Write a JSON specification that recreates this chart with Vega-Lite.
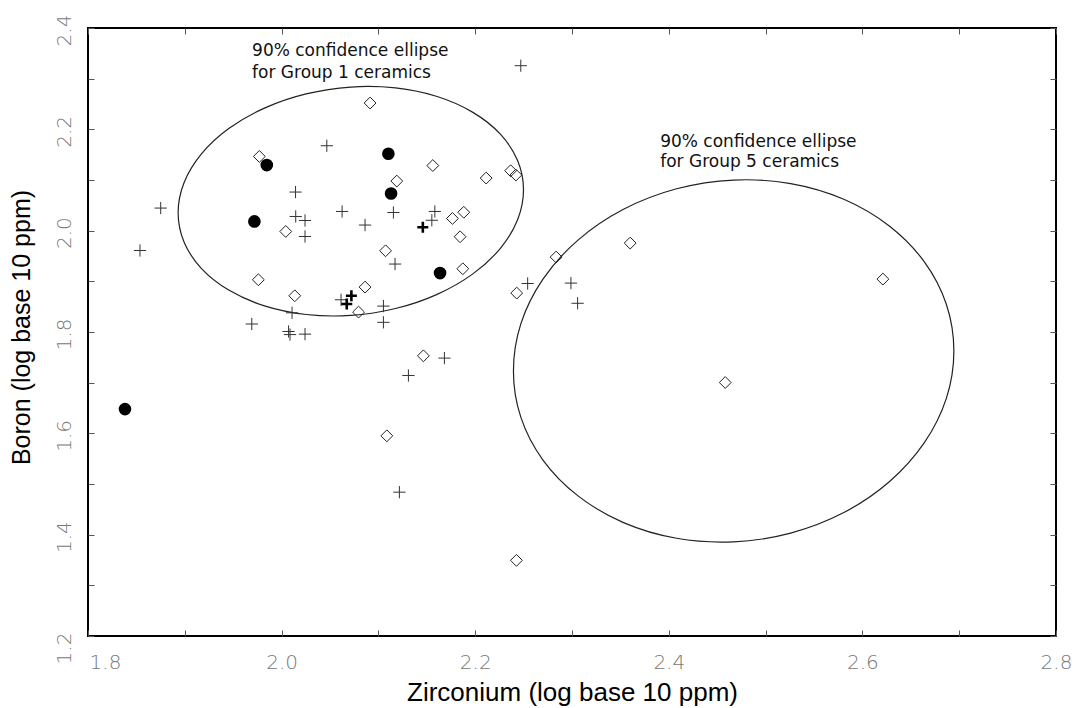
{
  "$schema": "https://vega.github.io/schema/vega-lite/v6.json",
  "width": 968,
  "height": 608,
  "autosize": "none",
  "padding": {"left": 88, "top": 28, "right": 21, "bottom": 72},
  "background": "white",
  "config": {
    "view": {"stroke": "#000", "strokeWidth": 2},
    "axis": {"grid": false, "domain": false, "labelFlush": false, "labelOverlap": false}
  },
  "datasets": {
    "points": [
      {"zr": 1.9847, "b": 2.1295, "kind": "dot"},
      {"zr": 2.1103, "b": 2.1518, "kind": "dot"},
      {"zr": 2.1131, "b": 2.0734, "kind": "dot"},
      {"zr": 1.9719, "b": 2.0182, "kind": "dot"},
      {"zr": 2.1637, "b": 1.9163, "kind": "dot"},
      {"zr": 1.8382, "b": 1.6478, "kind": "dot"},
      {"zr": 2.1459, "b": 2.0067, "kind": "bold"},
      {"zr": 2.0721, "b": 1.8715, "kind": "bold"},
      {"zr": 2.0673, "b": 1.8553, "kind": "bold"},
      {"zr": 2.0914, "b": 2.2519, "kind": "diamond"},
      {"zr": 1.9770, "b": 2.1465, "kind": "diamond"},
      {"zr": 2.1562, "b": 2.1285, "kind": "diamond"},
      {"zr": 2.2113, "b": 2.1038, "kind": "diamond"},
      {"zr": 2.2366, "b": 2.1183, "kind": "diamond"},
      {"zr": 2.2420, "b": 2.1098, "kind": "diamond"},
      {"zr": 2.1190, "b": 2.0979, "kind": "diamond"},
      {"zr": 2.1765, "b": 2.0241, "kind": "diamond"},
      {"zr": 2.1882, "b": 2.0363, "kind": "diamond"},
      {"zr": 2.1844, "b": 1.9880, "kind": "diamond"},
      {"zr": 2.0043, "b": 1.9984, "kind": "diamond"},
      {"zr": 2.1074, "b": 1.9603, "kind": "diamond"},
      {"zr": 2.1872, "b": 1.9248, "kind": "diamond"},
      {"zr": 1.9760, "b": 1.9031, "kind": "diamond"},
      {"zr": 2.0136, "b": 1.8715, "kind": "diamond"},
      {"zr": 2.0862, "b": 1.8886, "kind": "diamond"},
      {"zr": 2.0795, "b": 1.8393, "kind": "diamond"},
      {"zr": 2.1465, "b": 1.7530, "kind": "diamond"},
      {"zr": 2.1087, "b": 1.5951, "kind": "diamond"},
      {"zr": 2.2426, "b": 1.3493, "kind": "diamond"},
      {"zr": 2.2429, "b": 1.8768, "kind": "diamond"},
      {"zr": 2.2836, "b": 1.9479, "kind": "diamond"},
      {"zr": 2.3601, "b": 1.9755, "kind": "diamond"},
      {"zr": 2.6212, "b": 1.9044, "kind": "diamond"},
      {"zr": 2.4583, "b": 1.7003, "kind": "diamond"},
      {"zr": 2.2471, "b": 2.3256, "kind": "plus"},
      {"zr": 2.0467, "b": 2.1676, "kind": "plus"},
      {"zr": 2.0144, "b": 2.0762, "kind": "plus"},
      {"zr": 1.8751, "b": 2.0446, "kind": "plus"},
      {"zr": 2.0146, "b": 2.0280, "kind": "plus"},
      {"zr": 2.0242, "b": 2.0201, "kind": "plus"},
      {"zr": 2.0625, "b": 2.0379, "kind": "plus"},
      {"zr": 2.0862, "b": 2.0111, "kind": "plus"},
      {"zr": 2.0242, "b": 1.9885, "kind": "plus"},
      {"zr": 2.1155, "b": 2.0359, "kind": "plus"},
      {"zr": 2.1583, "b": 2.0379, "kind": "plus"},
      {"zr": 2.1552, "b": 2.0205, "kind": "plus"},
      {"zr": 2.1172, "b": 1.9341, "kind": "plus"},
      {"zr": 1.8537, "b": 1.9609, "kind": "plus"},
      {"zr": 2.0614, "b": 1.8636, "kind": "plus"},
      {"zr": 2.0108, "b": 1.8379, "kind": "plus"},
      {"zr": 2.1052, "b": 1.8511, "kind": "plus"},
      {"zr": 2.1052, "b": 1.8191, "kind": "plus"},
      {"zr": 1.9692, "b": 1.8158, "kind": "plus"},
      {"zr": 2.0072, "b": 1.8010, "kind": "plus"},
      {"zr": 2.0087, "b": 1.7949, "kind": "plus"},
      {"zr": 2.0242, "b": 1.7958, "kind": "plus"},
      {"zr": 2.1682, "b": 1.7485, "kind": "plus"},
      {"zr": 2.1310, "b": 1.7141, "kind": "plus"},
      {"zr": 2.1217, "b": 1.4839, "kind": "plus"},
      {"zr": 2.2542, "b": 1.8957, "kind": "plus"},
      {"zr": 2.2989, "b": 1.8965, "kind": "plus"},
      {"zr": 2.3058, "b": 1.8567, "kind": "plus"}
    ],
    "ellipses": [
      {"group": "Group 1", "i": 0, "zr": 2.2499, "b": 2.0808},
      {"group": "Group 1", "i": 1, "zr": 2.2438, "b": 2.1384},
      {"group": "Group 1", "i": 2, "zr": 2.2260, "b": 2.1905},
      {"group": "Group 1", "i": 3, "zr": 2.1976, "b": 2.2335},
      {"group": "Group 1", "i": 4, "zr": 2.1607, "b": 2.2647},
      {"group": "Group 1", "i": 5, "zr": 2.1177, "b": 2.2817},
      {"group": "Group 1", "i": 6, "zr": 2.0715, "b": 2.2835},
      {"group": "Group 1", "i": 7, "zr": 2.0253, "b": 2.2699},
      {"group": "Group 1", "i": 8, "zr": 1.9823, "b": 2.2419},
      {"group": "Group 1", "i": 9, "zr": 1.9454, "b": 2.2015},
      {"group": "Group 1", "i": 10, "zr": 1.9170, "b": 2.1511},
      {"group": "Group 1", "i": 11, "zr": 1.8992, "b": 2.0946},
      {"group": "Group 1", "i": 12, "zr": 1.8931, "b": 2.0354},
      {"group": "Group 1", "i": 13, "zr": 1.8992, "b": 1.9778},
      {"group": "Group 1", "i": 14, "zr": 1.9170, "b": 1.9257},
      {"group": "Group 1", "i": 15, "zr": 1.9454, "b": 1.8827},
      {"group": "Group 1", "i": 16, "zr": 1.9823, "b": 1.8515},
      {"group": "Group 1", "i": 17, "zr": 2.0253, "b": 1.8345},
      {"group": "Group 1", "i": 18, "zr": 2.0715, "b": 1.8327},
      {"group": "Group 1", "i": 19, "zr": 2.1177, "b": 1.8463},
      {"group": "Group 1", "i": 20, "zr": 2.1607, "b": 1.8743},
      {"group": "Group 1", "i": 21, "zr": 2.1976, "b": 1.9147},
      {"group": "Group 1", "i": 22, "zr": 2.2260, "b": 1.9651},
      {"group": "Group 1", "i": 23, "zr": 2.2438, "b": 2.0216},
      {"group": "Group 5", "i": 0, "zr": 2.6945, "b": 1.7626},
      {"group": "Group 5", "i": 1, "zr": 2.6868, "b": 1.8544},
      {"group": "Group 5", "i": 2, "zr": 2.6640, "b": 1.9385},
      {"group": "Group 5", "i": 3, "zr": 2.6278, "b": 2.0092},
      {"group": "Group 5", "i": 4, "zr": 2.5808, "b": 2.0620},
      {"group": "Group 5", "i": 5, "zr": 2.5259, "b": 2.0929},
      {"group": "Group 5", "i": 6, "zr": 2.4670, "b": 2.0999},
      {"group": "Group 5", "i": 7, "zr": 2.4081, "b": 2.0827},
      {"group": "Group 5", "i": 8, "zr": 2.3532, "b": 2.0422},
      {"group": "Group 5", "i": 9, "zr": 2.3062, "b": 1.9814},
      {"group": "Group 5", "i": 10, "zr": 2.2700, "b": 1.9043},
      {"group": "Group 5", "i": 11, "zr": 2.2472, "b": 1.8164},
      {"group": "Group 5", "i": 12, "zr": 2.2395, "b": 1.7232},
      {"group": "Group 5", "i": 13, "zr": 2.2472, "b": 1.6314},
      {"group": "Group 5", "i": 14, "zr": 2.2700, "b": 1.5473},
      {"group": "Group 5", "i": 15, "zr": 2.3062, "b": 1.4766},
      {"group": "Group 5", "i": 16, "zr": 2.3532, "b": 1.4238},
      {"group": "Group 5", "i": 17, "zr": 2.4081, "b": 1.3929},
      {"group": "Group 5", "i": 18, "zr": 2.4670, "b": 1.3859},
      {"group": "Group 5", "i": 19, "zr": 2.5259, "b": 1.4031},
      {"group": "Group 5", "i": 20, "zr": 2.5808, "b": 1.4436},
      {"group": "Group 5", "i": 21, "zr": 2.6278, "b": 1.5044},
      {"group": "Group 5", "i": 22, "zr": 2.6640, "b": 1.5815},
      {"group": "Group 5", "i": 23, "zr": 2.6868, "b": 1.6694}
    ],
    "notes": [
      {"zr": 1.9695, "b": 2.3552, "text": "90% confidence ellipse"},
      {"zr": 1.9695, "b": 2.3112, "text": "for Group 1 ceramics"},
      {"zr": 2.3911, "b": 2.1741, "text": "90% confidence ellipse"},
      {"zr": 2.3911, "b": 2.1346, "text": "for Group 5 ceramics"}
    ]
  },
  "resolve": {"axis": {"x": "independent", "y": "independent"}},
  "layer": [
    {
      "data": {"name": "ellipses"},
      "mark": {"type": "line", "stroke": "#222", "strokeWidth": 1.2, "interpolate": "cardinal-closed"},
      "encoding": {
        "x": {
          "field": "zr", "type": "quantitative",
          "scale": {"domain": [1.8, 2.8], "nice": false, "zero": false},
          "axis": {
            "orient": "bottom",
            "values": [1.8, 1.9, 2.0, 2.1, 2.2, 2.3, 2.4, 2.5, 2.6, 2.7, 2.8],
            "labelExpr": "round(datum.value*10) % 2 == 0 ? format(datum.value, '.1f') : ''",
            "tickSize": -6, "tickColor": "#555", "tickWidth": 1,
            "labelPadding": 22, "labelFont": "DejaVu Sans", "labelFontSize": 20,
            "labelFontWeight": 200, "labelColor": "#777",
            "labelOffset": {"condition": {"test": "datum.value < 1.85", "value": 17}, "value": 0},
            "title": "Zirconium (log base 10 ppm)",
            "titleFont": "Liberation Sans", "titleFontSize": 26, "titleFontWeight": "normal",
            "titleColor": "#000", "titleY": 43, "titleBaseline": "top"
          }
        },
        "y": {
          "field": "b", "type": "quantitative",
          "scale": {"domain": [1.2, 2.4], "nice": false, "zero": false},
          "axis": {
            "orient": "left",
            "values": [1.2, 1.3, 1.4, 1.5, 1.6, 1.7, 1.8, 1.9, 2.0, 2.1, 2.2, 2.3, 2.4],
            "labelExpr": "round(datum.value*10) % 2 == 0 ? format(datum.value, '.1f') : ''",
            "tickSize": -6, "tickColor": "#555", "tickWidth": 1,
            "labelAngle": -90, "labelAlign": "center", "labelBaseline": "bottom",
            "labelPadding": 20, "labelFont": "DejaVu Sans", "labelFontSize": 20,
            "labelFontWeight": 200, "labelColor": "#777",
            "labelOffset": {"condition": {"test": "datum.value < 1.25", "value": 12}, "value": 2},
            "title": "Boron (log base 10 ppm)",
            "titleFont": "Liberation Sans", "titleFontSize": 25, "titleFontWeight": "normal",
            "titleColor": "#000", "titleX": -54, "titleY": 299, "titleAngle": -90, "titleBaseline": "bottom", "titleAlign": "center"
          }
        },
        "detail": {"field": "group"},
        "order": {"field": "i", "type": "quantitative"}
      }
    },
    {
      "data": {"name": "points"},
      "transform": [{"filter": "datum.kind == 'diamond'"}],
      "mark": {"type": "point", "shape": "diamond", "filled": false, "stroke": "#222", "strokeWidth": 1, "size": 140, "opacity": 1},
      "encoding": {
        "x": {"field": "zr", "type": "quantitative", "axis": {
          "orient": "top", "labels": false, "title": null,
          "values": [1.8, 1.9, 2.0, 2.1, 2.2, 2.3, 2.4, 2.5, 2.6, 2.7, 2.8],
          "tickSize": -6, "tickColor": "#555"}},
        "y": {"field": "b", "type": "quantitative", "axis": {
          "orient": "right", "labels": false, "title": null,
          "values": [1.2, 1.3, 1.4, 1.5, 1.6, 1.7, 1.8, 1.9, 2.0, 2.1, 2.2, 2.3, 2.4],
          "tickSize": -6, "tickColor": "#555"}}
      }
    },
    {
      "data": {"name": "points"},
      "transform": [{"filter": "datum.kind == 'plus'"}],
      "mark": {"type": "point", "shape": "M-1,0L1,0M0,-1L0,1", "filled": false, "stroke": "#333", "strokeWidth": 1, "size": 150, "opacity": 1},
      "encoding": {
        "x": {"field": "zr", "type": "quantitative", "axis": null},
        "y": {"field": "b", "type": "quantitative", "axis": null}
      }
    },
    {
      "data": {"name": "points"},
      "transform": [{"filter": "datum.kind == 'bold'"}],
      "mark": {"type": "point", "shape": "M-1,0L1,0M0,-1L0,1", "filled": false, "stroke": "#000", "strokeWidth": 2.6, "size": 121, "opacity": 1},
      "encoding": {
        "x": {"field": "zr", "type": "quantitative", "axis": null},
        "y": {"field": "b", "type": "quantitative", "axis": null}
      }
    },
    {
      "data": {"name": "points"},
      "transform": [{"filter": "datum.kind == 'dot'"}],
      "mark": {"type": "point", "shape": "circle", "filled": true, "fill": "#000", "strokeWidth": 0, "size": 160, "opacity": 1},
      "encoding": {
        "x": {"field": "zr", "type": "quantitative", "axis": null},
        "y": {"field": "b", "type": "quantitative", "axis": null}
      }
    },
    {
      "data": {"name": "notes"},
      "mark": {"type": "text", "align": "left", "baseline": "middle", "font": "DejaVu Sans", "fontSize": 17, "fill": "#111"},
      "encoding": {
        "x": {"field": "zr", "type": "quantitative", "axis": null},
        "y": {"field": "b", "type": "quantitative", "axis": null},
        "text": {"field": "text"}
      }
    }
  ]
}
